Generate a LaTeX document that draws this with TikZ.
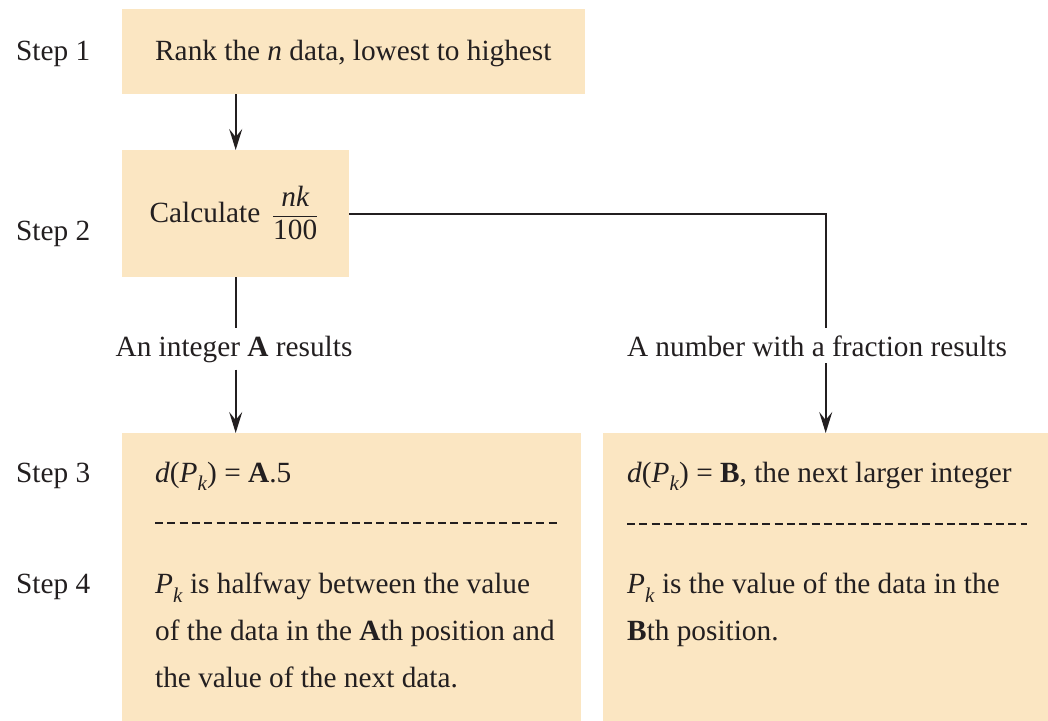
\documentclass[tikz,border=0pt]{standalone}
\usepackage{fontspec}
\setmainfont{Liberation Serif}
\usetikzlibrary{arrows.meta}
\definecolor{boxfill}{RGB}{251,230,194}
\definecolor{ink}{RGB}{35,31,32}
\newcommand{\Pkk}{\textit{P}\raisebox{-0.3em}{\fontsize{21}{21}\selectfont\textit{k}}}
\begin{document}
\begin{tikzpicture}[x=1pt,y=-1pt,
  font=\fontsize{29.3}{47}\selectfont, text=ink,
  fillbox/.style={fill=boxfill, draw=none, anchor=north west, inner sep=0pt},
  steplabel/.style={anchor=base west, inner sep=0pt},
  txt/.style={anchor=base west, inner sep=0pt, align=left},
  para/.style={anchor=north west, inner sep=0pt, align=left},
  lbl/.style={anchor=base, fill=white, inner xsep=2pt, inner ysep=7pt},
  conn/.style={draw=ink, line width=1.8pt},
  arr/.style={conn, -{Stealth[length=21pt,width=13pt,inset=8pt]}},
  sep/.style={draw=ink, line width=1.8pt, dash pattern=on 8pt off 4.3pt}]
\useasboundingbox (0,0) rectangle (1048,720);
\fill[white] (0,0) rectangle (1048,720);

% boxes
\node[fillbox, minimum width=463pt, minimum height=85pt] (b1) at (122,9) {};
\node[fillbox, minimum width=227pt, minimum height=127pt] (b2) at (122,150) {};
\node[fillbox, minimum width=459pt, minimum height=290pt] (b3) at (122,433) {};
\node[fillbox, minimum width=445pt, minimum height=290pt] (b4) at (603,433) {};

% step labels
\node[steplabel] (s1) at (16,60) {Step 1};
\node[steplabel] (s2) at (16,240) {Step 2};
\node[steplabel] (s3) at (16,482) {Step 3};
\node[steplabel] (s4) at (16,593) {Step 4};

% box texts
\node[txt] (t1) at (155,60) {Rank the \textit{n} data, lowest to highest};
\node[anchor=center, inner sep=0pt] (t2) at (234,213) {Calculate\hspace{0.4em}$\displaystyle\frac{\mbox{\itshape nk}}{\mbox{100}}$};
\node[txt] (t3a) at (155,482) {\textit{d}(\Pkk) = \textbf{A}.5};
\node[para] (t3b) at (155,573) {\Pkk\ is halfway between the value\\of the data in the \textbf{A}th position and\\the value of the next data.};
\node[txt] (t4a) at (627,482) {\textit{d}(\Pkk) = \textbf{B}, the next larger integer};
\node[para] (t4b) at (627,573) {\Pkk\ is the value of the data in the\\\textbf{B}th position.};

% dashed separators
\draw[sep] (155,523) -- (557,523);
\draw[sep] (627,524) -- (1027,524);

% branch labels
\node[lbl] (la) at (234,356) {An integer \textbf{A} results};
\node[lbl] (lb) at (817,356) {A number with a fraction results};

% connectors
\draw[arr] (b1.south -| b2.north) -- (b2.north);
\draw[conn] (b2.south) -- (b2.south |- la.north);
\draw[arr] (b2.south |- la.south) -- (b3.north -| b2.south);
\draw[conn] (b2.east) -- (b2.east -| b4.north) -- (b4.north |- lb.north);
\draw[arr] (b4.north |- lb.south) -- (b4.north);
\end{tikzpicture}
\end{document}
